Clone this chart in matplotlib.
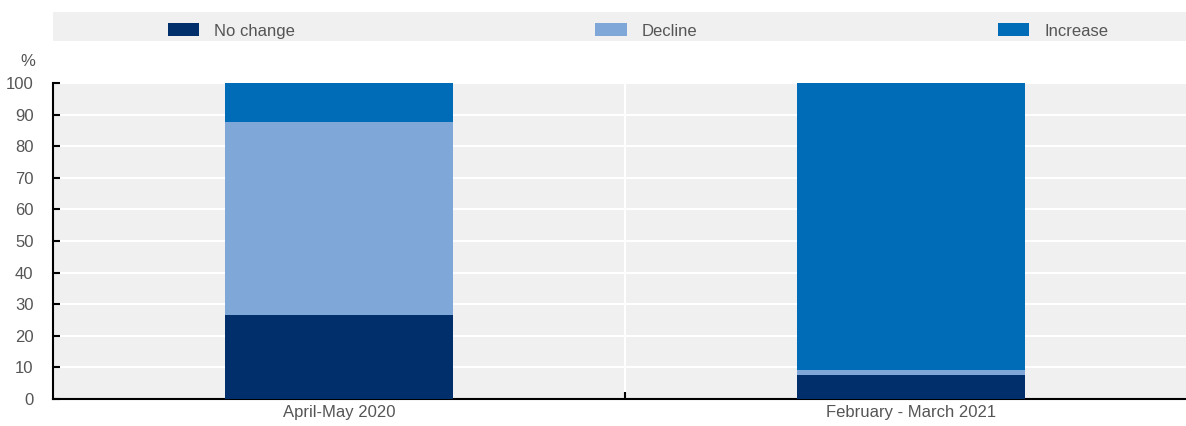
import matplotlib
matplotlib.use("Agg")
import matplotlib.pyplot as plt
import numpy as np

# --- data -----------------------------------------------------------------
periods = ["April-May 2020", "February - March 2021"]
no_change = [26.5, 7.5]
decline = [61.2, 1.8]
increase = [12.3, 90.7]

series_names = ["No change", "Decline", "Increase"]
colors = ["#002F6C", "#7FA8D9", "#006BB6"]

W, H = 1186, 426
plt.rcParams["font.family"] = ["Liberation Sans Narrow", "Liberation Sans", "DejaVu Sans"]
text_color = "#555555"

fig = plt.figure(figsize=(W / 100, H / 100), dpi=100)

# main axes, in pixel coords of the reference
left, right, top, bottom = 53, 1197, 83, 399
ax = fig.add_axes([left / W, (H - bottom) / H, (right - left) / W, (bottom - top) / H])
ax.set_facecolor("#F0F0F0")

x = np.arange(len(periods))
b1 = np.array(no_change)
b2 = b1 + np.array(decline)
bars = []
bars.append(ax.bar(x, no_change, width=0.4, color=colors[0], zorder=3))
bars.append(ax.bar(x, decline, width=0.4, bottom=b1, color=colors[1], zorder=3))
bars.append(ax.bar(x, increase, width=0.4, bottom=b2, color=colors[2], zorder=3))

ax.set_xlim(-0.5, 1.5)
ax.set_ylim(0, 100)
ax.set_yticks(np.arange(0, 101, 10))
ax.yaxis.grid(True, color="white", linewidth=1.5, zorder=1)
ax.axvline(0.5, color="white", linewidth=1.5, zorder=1)

ax.set_xticks([0.5], minor=False)
ax.set_xticklabels([""])
ax.set_xticks(x, minor=True)
ax.set_xticklabels(periods, minor=True, fontsize=12, color=text_color)
ax.tick_params(axis="x", which="minor", length=0, pad=4)
ax.tick_params(axis="x", which="major", direction="in", length=5, width=1.5, color="black")
ax.tick_params(axis="y", direction="in", length=5, width=1.5, labelsize=12,
               labelcolor=text_color, pad=14)

for s in ["top", "right"]:
    ax.spines[s].set_visible(False)
ax.spines["left"].set_linewidth(1.5)
ax.spines["bottom"].set_linewidth(1.5)

fig.text(28 / W, 1 - 62 / H, "%", ha="center", va="center", fontsize=12, color=text_color)

# legend band
band = fig.add_axes([left / W, 1 - 41 / H, (W - left) / W, 29 / H])
band.set_facecolor("#F0F0F0")
band.set_xticks([])
band.set_yticks([])
for s in band.spines.values():
    s.set_visible(False)

leg = fig.legend([b[0] for b in bars], series_names, loc="center",
                 bbox_to_anchor=(638 / W, 1 - 31 / H), ncol=3, frameon=False,
                 fontsize=12, handlelength=1.9, handleheight=0.8, handletextpad=0.9,
                 columnspacing=18.0)
for t in leg.get_texts():
    t.set_color(text_color)

fig.savefig("out.png", dpi=100)
